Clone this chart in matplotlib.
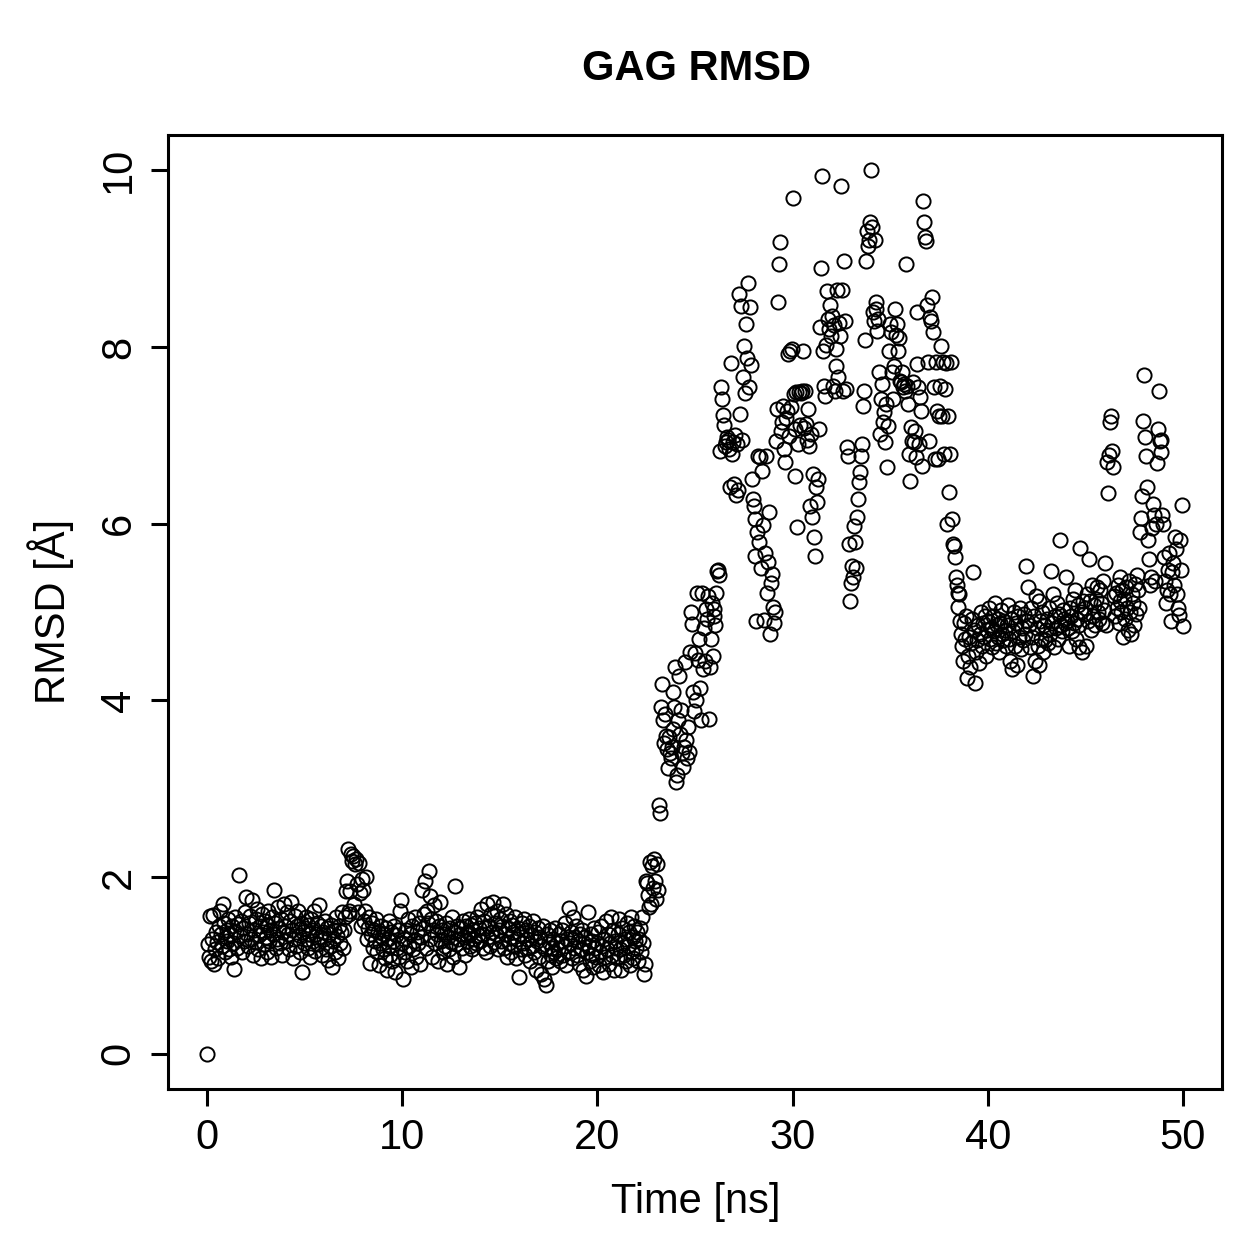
import numpy as np
import matplotlib
matplotlib.use("Agg")
import matplotlib.pyplot as plt

# font close to R's Helvetica
plt.rcParams["font.family"] = ["Liberation Sans", "DejaVu Sans"]

# frame spacing (ns) and RMSD per frame (Angstrom)
dt = 0.05

rmsd_00_10 = [
    0.00, 1.24, 1.10, 1.56, 1.05, 1.30, 1.57, 1.02, 1.18, 1.38, 1.26, 1.08, 1.45, 1.62, 1.35, 1.22, 1.70, 1.48, 1.15, 1.32,
    1.40, 1.28, 1.52, 1.18, 1.36, 1.10, 1.44, 1.25, 0.96, 1.55, 1.38, 1.20, 1.47, 2.02, 1.33, 1.50, 1.15, 1.42, 1.28, 1.60,
    1.77, 1.35, 1.22, 1.48, 1.56, 1.30, 1.74, 1.12, 1.40, 1.26, 1.52, 1.64, 1.18, 1.34, 1.45, 1.08, 1.58, 1.38, 1.24, 1.50,
    1.32, 1.15, 1.46, 1.62, 1.28, 1.40, 1.10, 1.55, 1.36, 1.85, 1.48, 1.20, 1.30, 1.66, 1.42, 1.25, 1.52, 1.12, 1.38, 1.70,
    1.45, 1.28, 1.60, 1.35, 1.18, 1.50, 1.72, 1.40, 1.08, 1.30, 1.56, 1.22, 1.45, 1.62, 1.34, 1.15, 1.48, 0.93, 1.38, 1.25,
    1.42, 1.55, 1.30, 1.20, 1.46, 1.35, 1.10, 1.52, 1.40, 1.28, 1.62, 1.16, 1.36, 1.48, 1.24, 1.68, 1.32, 1.44, 1.12, 1.38,
    1.30, 1.50, 1.18, 1.42, 1.06, 1.35, 1.22, 1.46, 0.98, 1.28, 1.40, 1.15, 1.55, 1.33, 1.08, 1.45, 1.25, 1.38, 1.60, 1.20,
    1.40, 1.55, 1.84, 1.96, 2.32, 1.62, 1.58, 1.84, 2.26, 2.18, 2.24, 1.70, 2.15, 2.20, 1.92, 1.60, 2.16, 1.82, 1.45, 1.98,
    1.85, 1.50, 1.62, 2.00, 1.30, 1.42, 1.55, 1.03, 1.35, 1.48, 1.20, 1.40, 1.28, 1.52, 1.15, 1.38, 1.00, 1.25, 1.45, 1.32,
    1.18, 1.36, 1.08, 1.42, 0.95, 1.30, 1.22, 1.50, 1.12, 1.38, 1.05, 1.28, 1.45, 0.92, 1.34, 1.20, 1.40, 1.10, 1.62, 1.74,
]

rmsd_10_20 = [
    1.25, 0.85, 1.30, 1.15, 1.40, 1.05, 1.52, 1.22, 1.35, 0.98, 1.44, 1.18, 1.28, 1.55, 1.10, 1.38, 1.25, 1.48, 1.02, 1.32,
    1.85, 1.42, 1.58, 1.95, 1.20, 1.62, 1.48, 2.07, 1.30, 1.78, 1.52, 1.10, 1.40, 1.68, 1.25, 1.50, 1.35, 1.05, 1.45, 1.72,
    1.28, 1.40, 1.15, 1.36, 1.22, 1.48, 1.02, 1.32, 1.18, 1.42, 1.26, 1.55, 1.10, 1.38, 1.90, 1.24, 1.45, 1.30, 0.98, 1.35,
    1.42, 1.20, 1.50, 1.32, 1.12, 1.44, 1.28, 1.38, 1.52, 1.22, 1.36, 1.46, 1.18, 1.40, 1.30, 1.48, 1.25, 1.55, 1.34, 1.42,
    1.28, 1.64, 1.36, 1.20, 1.50, 1.42, 1.15, 1.70, 1.32, 1.45, 1.22, 1.58, 1.38, 1.72, 1.26, 1.48, 1.35, 1.62, 1.18, 1.40,
    1.52, 1.28, 1.44, 1.70, 1.20, 1.36, 1.58, 1.10, 1.42, 1.25, 1.50, 1.32, 1.15, 1.46, 1.38, 1.22, 1.55, 1.08, 1.30, 1.42,
    0.87, 1.35, 1.18, 1.48, 1.25, 1.52, 1.12, 1.40, 1.30, 1.20, 1.45, 1.05, 1.34, 1.22, 1.50, 1.15, 1.38, 0.95, 1.28, 1.42,
    1.10, 1.32, 0.90, 1.22, 1.45, 0.85, 1.18, 0.78, 1.35, 1.05, 1.26, 1.40, 1.12, 1.20, 0.98, 1.30, 1.15, 1.42, 1.08, 1.25,
    1.18, 1.35, 1.05, 1.28, 1.40, 1.12, 1.22, 1.48, 1.00, 1.30, 1.15, 1.65, 1.25, 1.38, 1.08, 1.55, 1.20, 1.32, 1.45, 1.12,
    1.28, 1.02, 1.36, 1.18, 1.40, 0.95, 1.25, 1.32, 0.88, 1.15, 1.60, 1.22, 1.05, 1.35, 1.12, 1.28, 0.98, 1.42, 1.20, 1.10,
]

rmsd_20_30 = [
    1.25, 1.38, 1.00, 1.15, 1.45, 1.22, 0.92, 1.30, 1.10, 1.50, 1.18, 1.35, 1.02, 1.25, 1.55, 1.12, 1.40, 0.95, 1.28, 1.20,
    1.08, 1.35, 1.52, 1.18, 0.95, 1.42, 1.25, 1.12, 1.30, 1.05, 1.48, 1.22, 1.38, 1.00, 1.55, 1.15, 1.32, 1.08, 1.45, 1.28,
    1.20, 1.38, 1.05, 1.30, 1.42, 1.15, 1.55, 1.25, 0.90, 1.02, 1.95, 1.93, 1.80, 1.66, 2.17, 1.70, 2.13, 1.88, 2.20, 1.95,
    1.75, 2.15, 1.85, 2.82, 2.72, 3.93, 4.18, 3.78, 3.52, 3.85, 3.60, 3.45, 3.23, 3.58, 3.40, 3.35, 3.47, 3.67, 4.09, 3.93,
    4.38, 3.08, 3.15, 3.78, 4.27, 3.62, 3.89, 3.40, 3.25, 3.47, 4.43, 3.55, 3.35, 3.70, 3.42, 4.55, 5.00, 4.86, 4.10, 3.88,
    4.54, 4.00, 5.22, 4.46, 4.69, 4.14, 3.78, 5.22, 4.35, 4.82, 4.45, 5.03, 4.92, 5.18, 3.79, 4.38, 4.70, 5.10, 4.50, 4.95,
    5.03, 4.85, 5.22, 5.46, 5.48, 5.42, 6.82, 7.55, 7.41, 7.23, 7.12, 6.88, 6.92, 6.98, 6.95, 6.85, 6.42, 7.82, 6.79, 6.92,
    6.45, 7.00, 6.33, 6.90, 6.38, 8.60, 7.24, 8.46, 6.95, 7.66, 8.01, 7.48, 8.26, 7.87, 8.72, 7.55, 8.45, 7.80, 6.50, 6.28,
    6.20, 6.05, 5.63, 4.90, 5.90, 6.77, 5.79, 6.75, 5.50, 6.60, 5.99, 4.91, 5.67, 6.77, 5.22, 5.57, 6.13, 4.75, 5.33, 5.43,
    5.06, 4.88, 5.00, 6.94, 7.30, 8.51, 8.94, 9.19, 7.05, 7.15, 7.33, 6.84, 6.70, 7.20, 7.28, 7.92, 6.99, 7.95, 7.32, 7.98,
]

rmsd_30_40 = [
    9.69, 7.47, 7.07, 6.54, 7.49, 5.96, 6.90, 7.49, 7.12, 7.48, 7.50, 7.96, 7.08, 7.50, 7.13, 6.95, 7.30, 6.88, 6.20, 7.02,
    6.08, 6.56, 5.85, 5.63, 6.42, 6.25, 6.50, 7.07, 8.23, 8.89, 9.93, 7.96, 7.56, 7.45, 8.02, 8.63, 8.32, 8.20, 8.47, 8.12,
    8.35, 7.56, 8.25, 7.50, 7.98, 7.79, 8.64, 7.66, 8.27, 8.12, 9.82, 8.64, 7.50, 8.97, 8.29, 7.53, 6.87, 6.77, 5.77, 5.12,
    5.33, 5.52, 5.40, 5.97, 5.79, 5.50, 6.07, 6.28, 6.47, 6.58, 6.77, 6.90, 7.33, 7.50, 8.08, 8.97, 9.31, 9.14, 9.21, 9.42,
    10.00, 9.36, 8.40, 8.29, 9.21, 8.51, 8.43, 8.18, 8.32, 7.72, 7.01, 7.41, 7.58, 7.15, 7.26, 6.92, 7.35, 6.64, 7.10, 7.95,
    8.26, 8.17, 7.72, 7.41, 7.79, 8.43, 8.13, 8.26, 7.95, 8.10, 7.62, 7.60, 7.72, 7.55, 7.58, 7.50, 8.94, 7.56, 7.36, 6.79,
    6.48, 7.09, 6.94, 7.60, 6.92, 7.05, 6.75, 8.40, 7.81, 7.55, 6.90, 7.43, 7.28, 6.65, 9.65, 9.42, 9.25, 9.20, 8.47, 7.83,
    6.94, 8.34, 8.29, 8.57, 8.17, 7.55, 6.73, 7.83, 7.28, 6.73, 7.22, 7.56, 8.01, 7.22, 7.83, 6.79, 7.52, 7.82, 6.00, 7.22,
    6.36, 6.79, 7.83, 6.05, 5.77, 5.75, 5.62, 5.40, 5.31, 5.22, 5.06, 5.20, 4.90, 4.75, 4.62, 4.45, 4.88, 4.70, 4.95, 4.25,
    4.50, 4.72, 4.38, 4.65, 4.92, 5.45, 4.80, 4.20, 4.55, 4.68, 4.85, 4.42, 4.75, 5.00, 4.62, 4.88, 4.72, 4.95, 4.50, 4.80,
]

rmsd_40_50 = [
    4.90, 5.05, 4.70, 4.82, 4.60, 4.95, 4.78, 5.10, 4.65, 4.85, 4.92, 4.72, 4.55, 4.88, 5.02, 4.75, 4.68, 4.90, 4.80, 4.62,
    4.85, 5.08, 4.70, 4.45, 4.92, 4.35, 4.78, 5.00, 4.62, 4.88, 4.40, 4.95, 4.72, 5.05, 4.58, 4.82, 4.68, 4.98, 4.75, 5.52,
    4.90, 5.28, 4.85, 4.60, 5.05, 4.72, 4.28, 4.95, 4.45, 5.18, 4.82, 4.62, 5.12, 4.40, 4.90, 4.70, 5.00, 4.55, 4.85, 4.68,
    4.80, 4.92, 4.65, 5.05, 4.75, 5.46, 4.88, 5.20, 4.60, 4.95, 4.82, 5.10, 4.70, 4.98, 5.82, 4.85, 4.78, 5.02, 4.92, 4.88,
    5.40, 4.90, 4.82, 4.62, 5.05, 4.95, 4.78, 5.15, 4.88, 5.25, 4.70, 4.92, 5.08, 4.85, 4.60, 5.73, 5.00, 4.55, 5.12, 4.98,
    5.05, 4.62, 5.20, 4.90, 5.60, 5.12, 4.80, 5.30, 4.95, 5.08, 4.85, 5.15, 5.28, 5.00, 4.92, 5.25, 5.10, 4.88, 5.35, 5.02,
    5.56, 4.85, 6.70, 6.35, 6.78, 7.15, 7.22, 6.82, 6.64, 5.18, 4.95, 5.22, 5.05, 5.30, 4.88, 5.12, 5.40, 5.00, 5.25, 4.72,
    5.15, 4.92, 5.28, 5.05, 4.80, 5.35, 5.00, 4.75, 5.20, 5.10, 4.85, 5.32, 4.98, 5.42, 5.25, 5.05, 5.91, 6.06, 6.31, 7.16,
    7.68, 6.98, 6.77, 6.42, 5.82, 5.60, 5.30, 5.40, 5.95, 6.22, 6.10, 5.35, 6.00, 6.69, 7.07, 7.50, 6.94, 6.81, 6.95, 6.10,
    6.00, 5.62, 5.35, 5.10, 5.25, 5.48, 5.67, 5.20, 4.90, 5.45, 5.56, 5.30, 5.85, 5.71, 5.20, 5.05, 4.97, 5.82, 5.48, 6.21,
    4.84,
]

x_ticks = [0, 10, 20, 30, 40, 50]
y_ticks = [0, 2, 4, 6, 8, 10]

rmsd = np.concatenate([rmsd_00_10, rmsd_10_20, rmsd_20_30, rmsd_30_40, rmsd_40_50])
time_ns = np.arange(len(rmsd)) * dt

fig = plt.figure(figsize=(12.59, 12.59), dpi=100)
ax = fig.add_axes([0.1334, 0.135, 0.8372, 0.7578])

ax.plot(time_ns, rmsd, linestyle="none", marker="o", markersize=10.2,
        markerfacecolor="none", markeredgecolor="black", markeredgewidth=1.4)

# R style: 4% padding, box around the plot
ax.set_xlim(-2, 52)
ax.set_ylim(-0.4, 10.4)
for s in ax.spines.values():
    s.set_linewidth(2.2)

ax.set_xticks(x_ticks)
ax.set_yticks(y_ticks)
ax.set_xticklabels([str(v) for v in x_ticks])
ax.set_yticklabels([str(v) for v in y_ticks], rotation=90, va="center")
ax.tick_params(axis="both", length=12, width=2.2, labelsize=30, pad=9)

fig.text(0.553, 0.945, "GAG RMSD", ha="center", va="center", fontsize=30, fontweight="bold")
fig.text(0.553, 0.045, "Time [ns]", ha="center", va="center", fontsize=30)
fig.text(0.040, 0.514, "RMSD [Å]", ha="center", va="center", fontsize=30, rotation=90)

plt.savefig("out.png", dpi=100)
